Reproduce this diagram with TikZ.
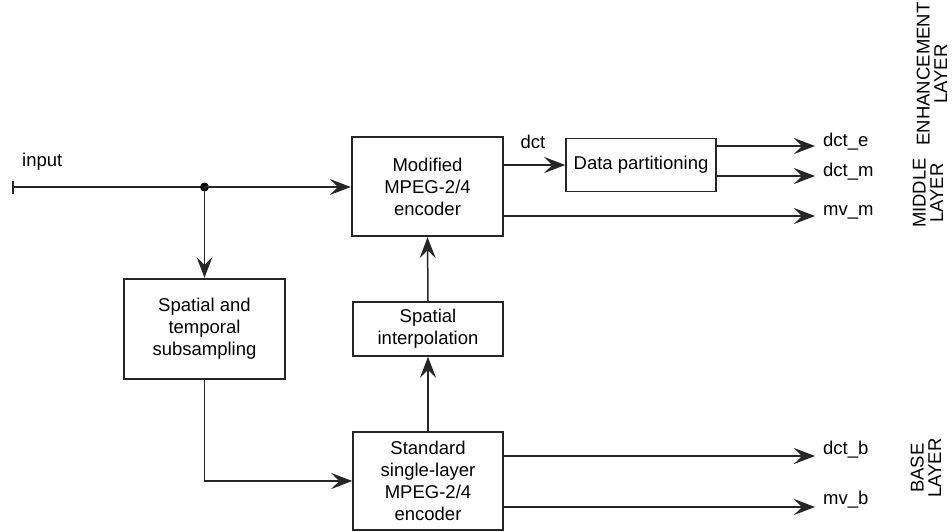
\documentclass[tikz,border=0pt]{standalone}
\usepackage{fontspec}
\setmainfont{Liberation Sans}
\usetikzlibrary{arrows.meta}
\begin{document}
\begin{tikzpicture}[x=1pt,y=-1pt,
  every node/.style={font=\fontsize{18.5}{22}\selectfont},
  blk/.style={draw=black!85, line width=1.5pt, align=center, inner sep=0pt},
  thickblk/.style={blk, line width=2.4pt},
  conn/.style={draw=black!85, line width=1.5pt},
  arr/.style={conn, -{Stealth[length=21pt,width=16pt,inset=8pt]}},
  lbl/.style={anchor=west, inner sep=0pt},
  layer/.style={rotate=90, align=center, inner sep=0pt, font=\fontsize{18.5}{17.5}\selectfont}]
\useasboundingbox (0,0) rectangle (952,531);
% blocks
\node[thickblk, minimum width=151pt, minimum height=99pt] (mod) at (427.5,186.5) {Modified\\MPEG-2/4\\encoder};
\node[blk, minimum width=150pt, minimum height=53pt] (dp) at (641,165) {Data partitioning};
\node[thickblk, minimum width=161pt, minimum height=100pt] (sub) at (204.5,329) {Spatial and\\temporal\\subsampling};
\node[blk, minimum width=150pt, minimum height=54pt] (interp) at (428,329) {Spatial\\interpolation};
\node[blk, minimum width=150pt, minimum height=98pt] (std) at (428,481) {Standard\\single-layer\\MPEG-2/4\\encoder};
% points
\coordinate (in) at (12,187);
\coordinate (dot) at (204.5,187);
\coordinate (oe) at (815,146);
\coordinate (om) at (815,176);
\coordinate (omv) at (815,216);
\coordinate (ob) at (815,456);
\coordinate (omb) at (815,507);
% connectors
\draw[conn, {Bar[width=13pt]}-] (in) -- (dot);
\fill[black] (dot) circle (4.5pt);
\draw[arr] (dot) -- (mod.west |- dot);
\draw[arr] (dot) -- (sub.north);
\draw[arr] (sub.south) |- (std.west);
\draw[arr] (std.north) -- (interp.south);
\draw[arr] (interp.north) -- (mod.south);
\draw[arr] (mod.east |- dp.west) -- (dp.west);
\draw[arr] (dp.east |- oe) -- (oe);
\draw[arr] (dp.east |- om) -- (om);
\draw[arr] (mod.east |- omv) -- (omv);
\draw[arr] (std.east |- ob) -- (ob);
\draw[arr] (std.east |- omb) -- (omb);
% labels
\node[lbl] (tin) at (22,162) {input};
\node (tdct) at (533,142) {dct};
\node[lbl] (te) at (823,142) {dct\_e};
\node[lbl] (tm) at (823,172) {dct\_m};
\node[lbl] (tmv) at (823,212) {mv\_m};
\node[lbl] (tb) at (823,450) {dct\_b};
\node[lbl] (tmb) at (823,500) {mv\_b};
% layer labels
\node[layer] (le) at (932,74) {ENHANCEMENT\\LAYER};
\node[layer] (lm) at (928,193) {MIDDLE\\LAYER};
\node[layer] (lb) at (926,468) {BASE\\LAYER};
\end{tikzpicture}
\end{document}
